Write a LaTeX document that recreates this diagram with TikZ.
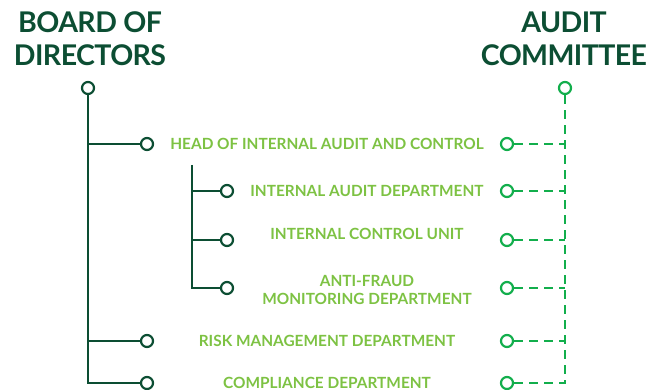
\documentclass[tikz,border=0pt]{standalone}
\usepackage{fontspec}
\setmainfont{Lato}
\usetikzlibrary{positioning}
\definecolor{darkgr}{HTML}{0C4E33}
\definecolor{litegr}{HTML}{7DC243}
\definecolor{midgr}{HTML}{12AE4C}
\tikzset{
  dot/.style={circle,draw,line width=2.2pt,fill=white,inner sep=0pt,minimum size=12pt},
  title/.style={text=darkgr,font=\fontsize{28.5}{33}\selectfont\bfseries\addfontfeature{LetterSpace=-2},align=center},
  unit/.style={text=litegr,font=\fontsize{15.4}{17.5}\selectfont\bfseries,align=center},
  solidln/.style={draw=darkgr,line width=2.2pt},
  dashln/.style={draw=midgr,line width=2.2pt,dash pattern=on 9pt off 6pt}
}
\begin{document}
\begin{tikzpicture}[x=1pt,y=-1pt]
    \useasboundingbox (0,0) rectangle (646,390);
    \def\xl{147} %left dots
    \def\xs{227} %sub dots
    \def\xr{507} %right dots
    % titles
    \node[title] (bod) at (90,39) {BOARD OF\\DIRECTORS};
    \node[title] (ac) at (564,39) {AUDIT\\COMMITTEE};
    \node[dot,draw=darkgr] (bodtop) at (88,88) {};
    \node[dot,draw=midgr] (actop) at (565,88) {};
    % units
    \node[dot,draw=darkgr] (hiacL) at (\xl,144) {};
    \node[dot,draw=midgr] (hiacR) at (\xr,144) {};
    \node[unit] (hiac) at ({(\xl+\xr)/2},144) {HEAD OF INTERNAL AUDIT AND CONTROL};
    \node[dot,draw=darkgr] (iadL) at (\xs,191) {};
    \node[dot,draw=midgr] (iadR) at (\xr,191) {};
    \node[unit] (iad) at ({(\xs+\xr)/2},191) {INTERNAL AUDIT DEPARTMENT};
    \node[dot,draw=darkgr] (icuL) at (\xs,240) {};
    \node[dot,draw=midgr] (icuR) at (\xr,240) {};
    \node[unit] (icu) at ({(\xs+\xr)/2},234) {INTERNAL CONTROL UNIT};
    \node[dot,draw=darkgr] (afmL) at (\xs,288) {};
    \node[dot,draw=midgr] (afmR) at (\xr,288) {};
    \node[unit] (afm) at ({(\xs+\xr)/2},290) {ANTI-FRAUD\\MONITORING DEPARTMENT};
    \node[dot,draw=darkgr] (rmdL) at (\xl,341) {};
    \node[dot,draw=midgr] (rmdR) at (\xr,341) {};
    \node[unit] (rmd) at ({(\xl+\xr)/2},341) {RISK MANAGEMENT DEPARTMENT};
    \node[dot,draw=darkgr] (cdL) at (\xl,383) {};
    \node[dot,draw=midgr] (cdR) at (\xr,383) {};
    \node[unit] (cd) at ({(\xl+\xr)/2},383) {COMPLIANCE DEPARTMENT};
    % board lines
    \coordinate (subtop) at (192,165);
    \draw[solidln] (bodtop) -- (bodtop |- cdL) -- (cdL);
    \foreach \n in {hiacL,rmdL}\draw[solidln] (bodtop |- \n) -- (\n);
    \draw[solidln] (subtop) -- (subtop |- afmL) -- (afmL);
    \draw[solidln] (subtop |- iadL) -- (iadL);
    \draw[solidln] (subtop |- icuL) -- (icuL);
    % committee lines
    \draw[dashln] (actop) -- (actop |- cdR) -- (cdR);
    \foreach \n in {hiacR,iadR,icuR,afmR,rmdR}\draw[dashln] (\n) -- (actop |- \n);
\end{tikzpicture}
\end{document}
